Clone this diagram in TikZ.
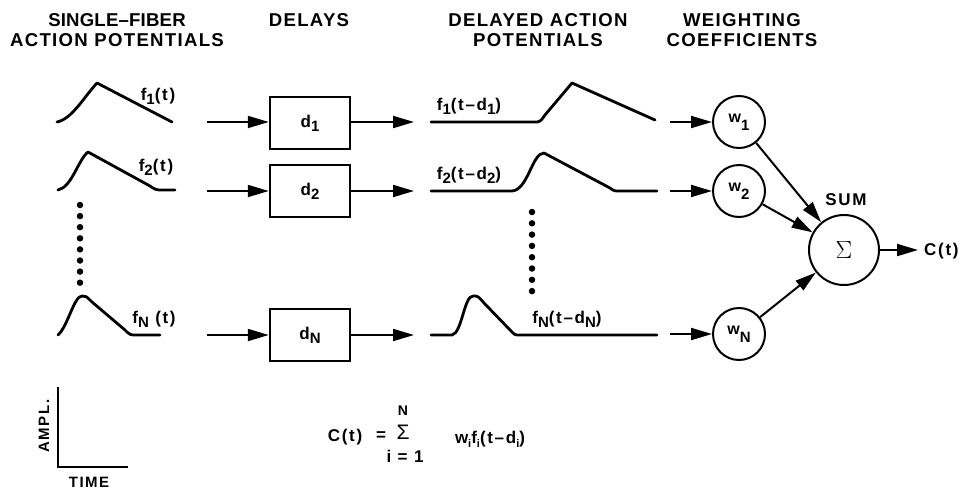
\documentclass[tikz,border=0pt]{standalone}
\usepackage{fontspec}
\setmainfont{Liberation Sans}
\newfontfamily\hfont{Liberation Sans}[LetterSpace=7]
\newfontfamily\hfontn{Liberation Sans}[LetterSpace=1]
\newfontfamily\lfont{Liberation Sans}[LetterSpace=10]
\usetikzlibrary{arrows.meta}
\newcommand{\lsub}[1]{\raisebox{-0.45ex}{\fontsize{15}{15}\selectfont #1}}
\newcommand{\ssub}[1]{\raisebox{-0.45ex}{\fontsize{11}{11}\selectfont #1}}
\tikzset{
  hdr/.style={font=\hfont\bfseries\fontsize{18.6}{20}\selectfont, align=center, inner sep=0pt},
  lbl/.style={font=\lfont\bfseries\fontsize{17}{19}\selectfont, inner sep=0pt},
  wave/.style={line width=2.8pt, line cap=round, line join=round},
  arr/.style={line width=2pt, -{Triangle[length=21pt,width=12pt]}},
  dbox/.style={draw, line width=2.4pt, minimum width=80pt, minimum height=52pt, font=\lfont\bfseries\fontsize{17}{19}\selectfont, inner sep=0pt},
  wcirc/.style={draw, circle, line width=2pt, minimum size=52pt, font=\lfont\bfseries\fontsize{16}{18}\selectfont, inner sep=0pt},
  scirc/.style={draw, circle, line width=2pt, minimum size=70pt, font=\fontsize{26}{28}\selectfont, inner sep=0pt},
  dot/.style={fill, circle, inner sep=0pt, minimum size=6.5pt}
}
\begin{document}
\begin{tikzpicture}[x=1pt, y=-1pt]
\useasboundingbox (0,0) rectangle (959,490);
% headers
\node[hdr] (h1) at (117,30) {{\hfontn SINGLE–FIBER}\\ACTION POTENTIALS};
\node[hdr] (h2) at (309,20) {DELAYS};
\node[hdr] (h3) at (538,30) {DELAYED ACTION\\POTENTIALS};
\node[hdr] (h4) at (742,30) {WEIGHTING\\COEFFICIENTS};
% source waveforms
\draw[wave] (57,122) .. controls (72,119) and (84,97) .. (97,83) -- (172,122);
\draw[wave] (58,190) .. controls (72,187) and (78,160) .. (88,152) -- (150,186) .. controls (156,190) .. (163,190) -- (175,190);
\draw[wave] (58,335) .. controls (68,326) and (74,296) .. (82,296) .. controls (86,296) .. (92,302) -- (125,330) .. controls (130,335) .. (137,335) -- (160,335);
\node[lbl] (l1) at (158,96) {f\lsub{1}(t)};
\node[lbl] (l2) at (156,167) {f\lsub{2}(t)};
\node[lbl] (lN) at (154,319) {f\lsub{N} (t)};
% dots
\foreach \i in {0,...,7} { \node[dot] (ld\i) at (80,205+11.1*\i) {}; }
\foreach \i in {0,...,7} { \node[dot] (rd\i) at (532,212+11.3*\i) {}; }
% delay boxes
\node[dbox] (d1) at (310,123) {d\lsub{1}};
\node[dbox] (d2) at (310,191) {d\lsub{2}};
\node[dbox] (dN) at (310,335) {d\lsub{N}};
\coordinate (s1) at (207,122);
\coordinate (s2) at (207,191);
\coordinate (sN) at (207,335);
\coordinate (e1) at (414,122);
\coordinate (e2) at (414,191);
\coordinate (eN) at (414,335);
\draw[arr] (s1) -- (d1.west|-s1);
\draw[arr] (s2) -- (d2.west|-s2);
\draw[arr] (sN) -- (dN.west|-sN);
\draw[arr] (d1.east|-e1) -- (e1);
\draw[arr] (d2.east|-e2) -- (e2);
\draw[arr] (dN.east|-eN) -- (eN);
% delayed waveforms
\draw[wave] (431,122) -- (534,122) .. controls (540,122) .. (545,115) -- (572,83) -- (655,120);
\draw[wave] (431,191) -- (512,191) .. controls (528,190) and (532,153) .. (544,153) -- (610,188) .. controls (614,191) .. (620,191) -- (657,191);
\draw[wave] (431,335) -- (452,335) .. controls (462,333) and (464,296) .. (473,296) .. controls (478,296) .. (484,303) -- (512,332) .. controls (515,335) .. (520,335) -- (657,335);
\node[lbl] (m1) at (469,106) {f\lsub{1}(t–d\lsub{1})};
\node[lbl] (m2) at (469,175) {f\lsub{2}(t–d\lsub{2})};
\node[lbl] (mN) at (567,319) {f\lsub{N}(t–d\lsub{N})};
% weights
\node[wcirc] (w1) at (739,122) {\raisebox{0.45ex}{w}\lsub{1}};
\node[wcirc] (w2) at (739,191) {\raisebox{0.45ex}{w}\lsub{2}};
\node[wcirc] (wN) at (739,334) {\raisebox{0.45ex}{w}\lsub{N}};
\coordinate (t1) at (670,122);
\coordinate (t2) at (670,191);
\coordinate (tN) at (670,334);
\draw[arr] (t1) -- (w1);
\draw[arr] (t2) -- (w2);
\draw[arr] (tN) -- (wN);
% sum
\node[scirc] (sum) at (844,250) {$\Sigma$};
\node[lbl] (sumlbl) at (846,200) {SUM};
\draw[arr] (w1) -- (sum);
\draw[arr] (w2) -- (sum);
\draw[arr] (wN) -- (sum);
\coordinate (out) at (918,250);
\draw[arr] (sum) -- (out);
\node[lbl, anchor=west] (ct) at (924,251) {C(t)};
% axes
\coordinate (ax0) at (58,467);
\coordinate (axy) at (58,387);
\coordinate (axx) at (128,467);
\draw[line width=2.4pt] (axy) -- (ax0) -- (axx);
\node[lbl, rotate=90, font=\lfont\bfseries\fontsize{15}{17}\selectfont] (ampl) at (44,426) {AMPL.};
\node[lbl, font=\lfont\bfseries\fontsize{15}{17}\selectfont] (time) at (89,482) {TIME};
% formula
\node[lbl] (fc) at (345,437) {C(t)};
\node[lbl] (feq) at (381,436) {=};
\node[inner sep=0pt, font=\fontsize{21}{21}\selectfont] (fsig) at (403,432) {Σ};
\node[lbl, font=\lfont\bfseries\fontsize{14}{14}\selectfont] (fN) at (403,411) {N};
\node[lbl] (fi) at (405,456) {i = 1};
\node[lbl] (fw) at (490,439) {w\ssub{i}f\ssub{i}(t–d\ssub{i})};
\end{tikzpicture}
\end{document}
